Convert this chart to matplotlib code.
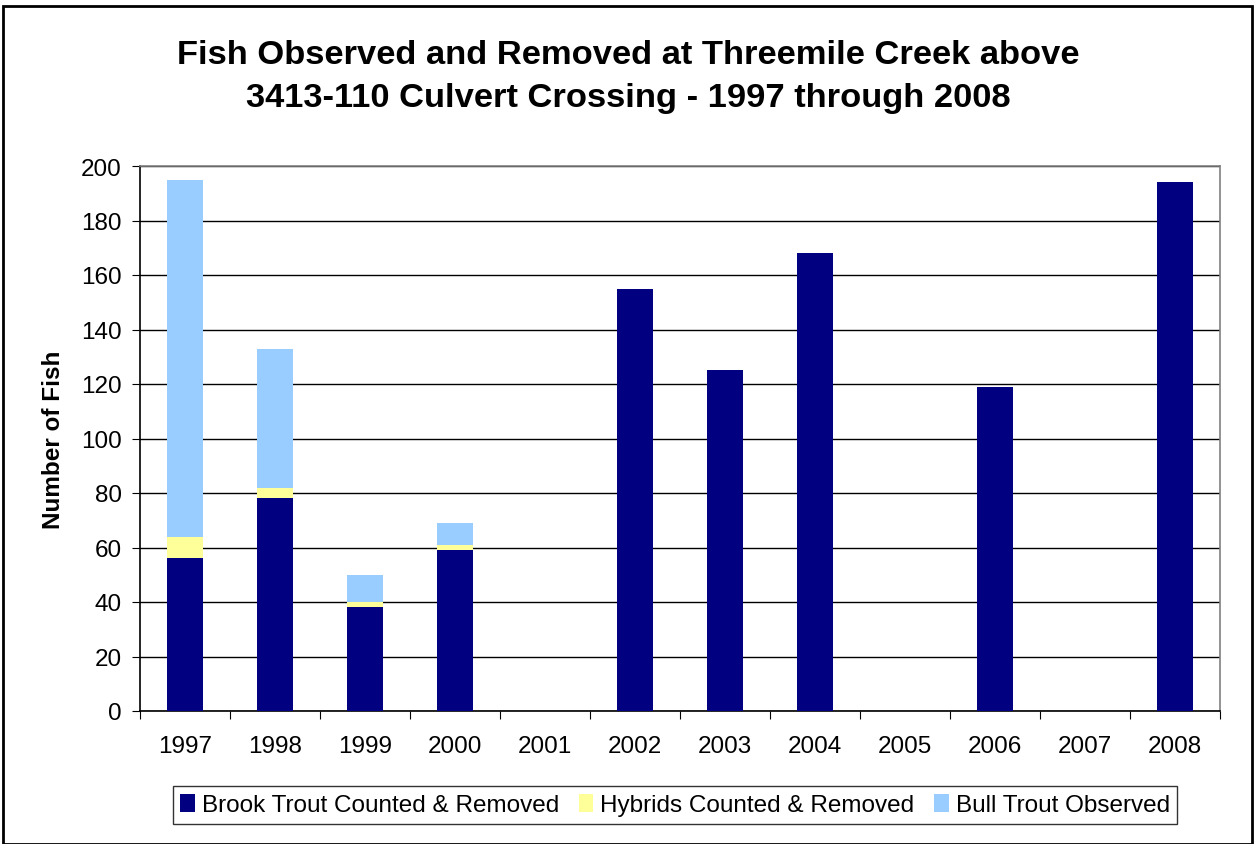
import numpy as np
import matplotlib.pyplot as plt
from matplotlib.patches import Rectangle

plt.rcParams['font.family'] = ['Liberation Sans', 'DejaVu Sans']

# Data
years = ['1997', '1998', '1999', '2000', '2001', '2002',
         '2003', '2004', '2005', '2006', '2007', '2008']
brook_trout = [56, 78, 38, 59, 0, 155, 125, 168, 0, 119, 0, 194]
hybrids = [8, 4, 2, 2, 0, 0, 0, 0, 0, 0, 0, 0]
bull_trout = [131, 51, 10, 8, 0, 0, 0, 0, 0, 0, 0, 0]

labels = ['Brook Trout Counted & Removed', 'Hybrids Counted & Removed', 'Bull Trout Observed']
colors = ['#000080', '#FFFF99', '#99CCFF']

fig = plt.figure(figsize=(12.57, 8.45), dpi=100)
ax = fig.add_axes([140 / 1257, 1 - 712 / 845, 1080 / 1257, 545 / 845])

x = np.arange(len(years))
brook = np.array(brook_trout)
hyb = np.array(hybrids)
bull = np.array(bull_trout)

b1 = ax.bar(x, brook, width=0.4, color=colors[0], label=labels[0], zorder=3)
b2 = ax.bar(x, hyb, width=0.4, bottom=brook, color=colors[1], label=labels[1], zorder=3)
b3 = ax.bar(x, bull, width=0.4, bottom=brook + hyb, color=colors[2], label=labels[2], zorder=3)

ax.set_xlim(-0.5, len(years) - 0.5)
ax.set_ylim(0, 200)
ax.set_yticks(range(0, 201, 20))
ax.yaxis.grid(True, color='black', linewidth=1)
ax.set_axisbelow(True)

# category boundaries as ticks, labels centred
ax.set_xticks(np.arange(-0.5, len(years), 1))
ax.set_xticklabels([])
ax.set_xticks(x, minor=True)
ax.set_xticklabels(years, minor=True, fontsize=17.5)
ax.tick_params(axis='x', which='minor', length=0, pad=17)
ax.tick_params(axis='x', which='major', length=6, direction='out', color='black')
ax.tick_params(axis='y', length=6, direction='out', labelsize=17.5, pad=7)

for s in ['top', 'right']:
    ax.spines[s].set_color('#808080')
for s in ['left', 'bottom']:
    ax.spines[s].set_color('black')
for s in ax.spines.values():
    s.set_linewidth(1.2)

ax.set_ylabel('Number of Fish', fontsize=17.5, fontweight='bold', labelpad=12)

fig.text(0.5, 1 - 56 / 845, 'Fish Observed and Removed at Threemile Creek above',
         ha='center', va='center', fontsize=24.8, fontweight='bold')
fig.text(0.5, 1 - 99 / 845, '3413-110 Culvert Crossing - 1997 through 2008',
         ha='center', va='center', fontsize=24.8, fontweight='bold')

leg = fig.legend(handles=[b1, b2, b3], loc='center', bbox_to_anchor=(675 / 1257, 1 - 806 / 845),
                 ncol=3, fontsize=17.5, frameon=True, fancybox=False, edgecolor='black',
                 handlelength=0.6, handleheight=0.8, handletextpad=0.3, columnspacing=0.8,
                 borderpad=0.3, borderaxespad=0)
leg.get_frame().set_linewidth(1)

# outer chart border
fig.patches.append(Rectangle((3 / 1257, 0), 1249 / 1257, 1 - 7 / 845, transform=fig.transFigure,
                             fill=False, edgecolor='black', linewidth=2))

fig.savefig('out.png', dpi=100)
